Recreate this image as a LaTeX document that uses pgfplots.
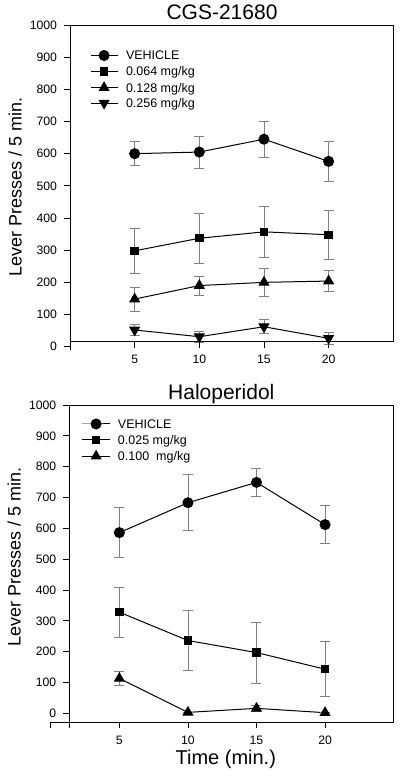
\documentclass[border=0pt]{standalone}
\usepackage{fontspec}
\setmainfont{Liberation Sans}
\usepackage{pgfplots}
\pgfplotsset{compat=1.18}
\definecolor{errgray}{rgb}{0.5,0.5,0.5}
\pgfplotsset{
  common/.style={
    clip=false, scale only axis,
    major tick length=6pt,
    tick style={black, line width=0.8pt},
    axis line style={black, line width=0.9pt},
    tick label style={font=\fontsize{12.2}{14}\selectfont},
    /pgf/number format/assume math mode=true,
    /pgf/number format/1000 sep={},
  },
  ser/.style={black, line width=1pt,
    error bars/y dir=both, error bars/y explicit,
    error bars/error bar style={errgray, line width=0.7pt},
    error bars/error mark options={rotate=90, errgray, mark size=5pt, line width=0.7pt}},
  leg/.style={legend cell align=left,
    legend style={draw=none, fill=none, inner sep=0pt, outer sep=0pt, row sep=6.4pt,
      font=\fontsize{12.5}{14}\selectfont,
      nodes={inner sep=0pt, text height=8.95pt, text depth=0pt}},
    legend image code/.code={\draw[mark repeat=2,mark phase=2] plot coordinates {(0pt,0pt) (13.6pt,0pt) (27.3pt,0pt)}; \path (35pt,0pt);}},
}
\begin{document}
\begin{tikzpicture}
\useasboundingbox (0,0) rectangle (400pt,776pt);
% ---------------- top panel ----------------
\begin{axis}[common, x=12.93pt, y=0.3217pt, xmin=0, xmax=25, ymin=-10, ymax=1000,
  axis y line*=left, axis x line=none, xtick=\empty, ytick={0,100,...,1000},
  yticklabel style={xshift=-3.5pt}, tick align=outside,
  anchor=south west, at={(70pt,426.1pt)}]
\end{axis}
\begin{axis}[common, leg, x=12.93pt, y=0.3217pt, xmin=0, xmax=25, ymin=16, ymax=1000,
  axis x line*=bottom, axis y line=none, ytick=\empty, xtick={5,10,15,20},
  xticklabel style={yshift=-4pt}, tick align=outside,
  legend style={at={(axis cs:1.547,920.7)}, anchor=north west},
  anchor=south west, at={(70pt,434.45pt)}]
\draw[black, line width=0.9pt] (axis cs:0,1000) -- (axis cs:25,1000) -- (axis cs:25,16);
\addplot[ser, mark=*, mark size=5pt, mark options={solid, fill=black}] coordinates {
  (5,600) +- (0,37) (10,605) +- (0,50) (15,645) +- (0,56) (20,576) +- (0,61)};
\addlegendentry{VEHICLE}
\addplot[ser, mark=square*, mark size=3.7pt, mark options={solid, fill=black}] coordinates {
  (5,298) +- (0,69) (10,337) +- (0,77) (15,357) +- (0,78) (20,348) +- (0,75)};
\addlegendentry{0.064 mg/kg}
\addplot[ser, mark=triangle*, mark size=5.5pt, mark options={solid, fill=black}] coordinates {
  (5,148) +- (0,37) (10,190) +- (0,30) (15,200) +- (0,44) (20,204) +- (0,33)};
\addlegendentry{0.128 mg/kg}
\addplot[ser, mark=triangle*, mark size=5.5pt, mark options={solid, fill=black, rotate=180}] coordinates {
  (5,52) +- (0,17) (10,31) +- (0,16) (15,62) +- (0,22) (20,26) +- (0,20)};
\addlegendentry{0.256 mg/kg}
\end{axis}
% ---------------- bottom panel ----------------
\begin{axis}[common, x=13.713pt, y=0.3083pt, xmin=1.35, xmax=25, ymin=-47, ymax=1000,
  axis y line*=left, axis x line=none, xtick=\empty, ytick={0,100,...,1000},
  yticklabel style={xshift=-3.5pt}, tick align=outside,
  anchor=south west, at={(69.3pt,48.2pt)}]
\end{axis}
\begin{axis}[common, leg, x=13.713pt, y=0.3083pt, xmin=0, xmax=25, ymin=-29, ymax=1000,
  axis x line*=bottom, axis y line=none, ytick=\empty, xtick={0,5,10,15,20},
  xticklabels={,5,10,15,20},
  xticklabel style={yshift=-4pt}, tick align=outside,
  legend style={at={(axis cs:2.275,954.6)}, anchor=north west},
  anchor=south west, at={(50.8pt,53.76pt)}]
\draw[black, line width=0.9pt] (axis cs:1.35,1000) -- (axis cs:25,1000) -- (axis cs:25,-29);
\addplot[ser, mark=*, mark size=5pt, mark options={solid, fill=black}] coordinates {
  (5,586) +- (0,81) (10,683) +- (0,91) (15,749) +- (0,44) (20,612) +- (0,62)};
\addlegendentry{VEHICLE}
\addplot[ser, mark=square*, mark size=3.7pt, mark options={solid, fill=black}] coordinates {
  (5,328) +- (0,81) (10,236) +- (0,97) (15,197) +- (0,99) (20,143) +- (0,89)};
\addlegendentry{0.025 mg/kg}
\addplot[ser, mark=triangle*, mark size=5.5pt, mark options={solid, fill=black}] coordinates {
  (5,113) +- (0,22) (10,3) +- (0,0) (15,16) +- (0,10) (20,2) +- (0,0)};
\addlegendentry{0.100\ \ mg/kg}
\end{axis}
% ---------------- titles and labels ----------------
\node[anchor=base] at (222pt,756pt) {\fontsize{21}{24}\selectfont CGS-21680};
\node[anchor=base] at (221.3pt,376.7pt) {\fontsize{21}{24}\selectfont Haloperidol};
\node[anchor=base, rotate=90] at (21.5pt,589.3pt) {\fontsize{18}{21}\selectfont Lever Presses / 5 min.};
\node[anchor=base, rotate=90] at (20.7pt,219.3pt) {\fontsize{18}{21}\selectfont Lever Presses / 5 min.};
\node[anchor=base] at (225.8pt,11pt) {\fontsize{20}{23}\selectfont Time (min.)};
\end{tikzpicture}
\end{document}
